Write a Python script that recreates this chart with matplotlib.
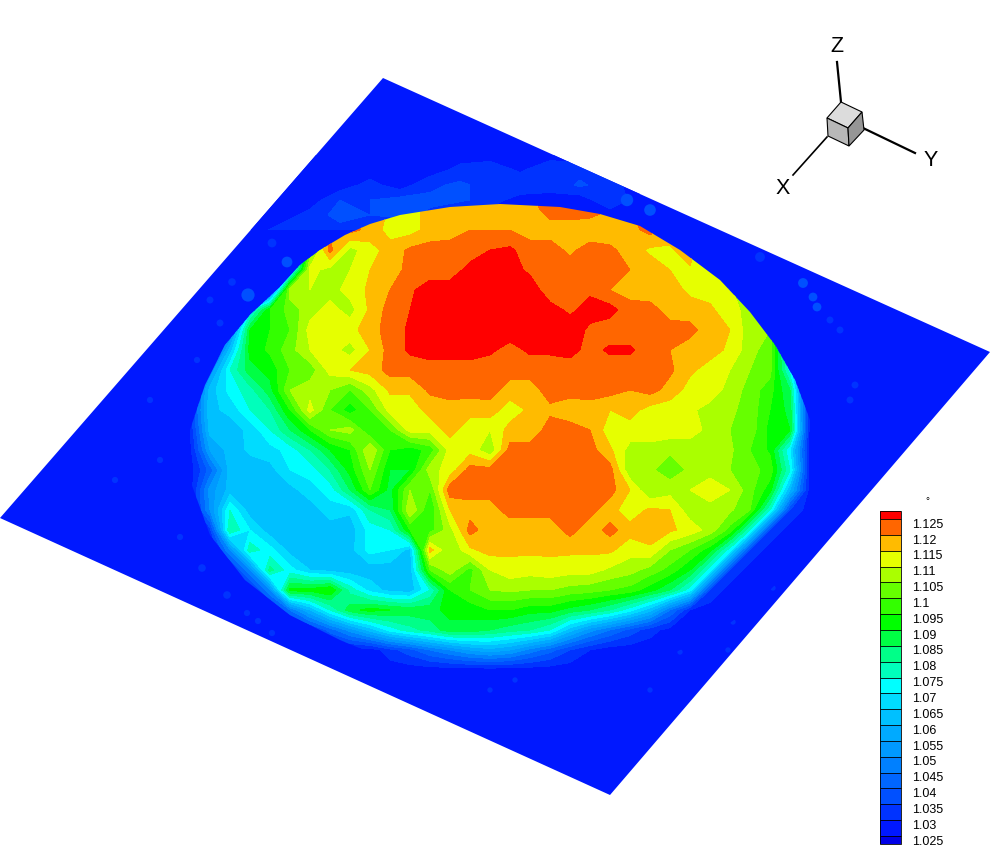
import numpy as np
import matplotlib
matplotlib.use("Agg")
import matplotlib.pyplot as plt
from matplotlib.patches import Polygon
from matplotlib.transforms import ScaledTranslation

plt.rcParams['font.family'] = ['Liberation Sans', 'DejaVu Sans']

# Contour levels and legend
levels = [1.025, 1.03, 1.035, 1.04, 1.045, 1.05, 1.055, 1.06, 1.065, 1.07, 1.075,
          1.08, 1.085, 1.09, 1.095, 1.1, 1.105, 1.11, 1.115, 1.12, 1.125]
level_labels = ['1.025', '1.03', '1.035', '1.04', '1.045', '1.05', '1.055', '1.06', '1.065', '1.07', '1.075',
                '1.08', '1.085', '1.09', '1.095', '1.1', '1.105', '1.11', '1.115', '1.12', '1.125']
band_colors = ['#0000e6', '#0018ff', '#0033ff', '#0050ff', '#0066ff', '#0080ff', '#0099ff', '#00aaff',
               '#00c0ff', '#00dcff', '#00ffff', '#00ffbb', '#00ff88', '#00ff44', '#00ff00',
               '#33ff00', '#66ff00', '#aaff00', '#e6ff00', '#ffbb00', '#ff6600', '#ff0000']

# Field, on image pixels, as 1000 * (value - 1)
grid_x = [190, 210, 230, 250, 270, 290, 310, 330, 350, 370, 390, 410, 430, 450, 470, 490,
          510, 530, 550, 570, 590, 610, 630, 650, 670, 690, 710, 730, 750, 770, 790, 810]
grid_y = [190, 210, 230, 250, 270, 290, 310, 330, 350, 370, 390, 410, 430,
          450, 470, 490, 510, 530, 550, 570, 590, 610, 630, 650, 670]
field = [
    [70,70,70,70,70,90,112,118,120,118, 114,114,116,118,118,118,120,120,122,122, 122,120,120,118,116,114,110,90,50,30, 27,27],
    [70,70,70,70,70,90,112,122,125,120, 114,114,116,118,118,118,120,118,122,122, 122,120,120,122,118,114,110,90,50,30, 27,27],
    [27,27,27,27,27,60,100,118,122,118, 113,113,117,118,120,120,120,118,118,118, 117,117,118,122,118,118,115,105,60,30, 27,27],
    [27,27,27,27,27,27,100,122,108,113, 117,121,122,122,122,125,126,122,122,119, 122,121,118,114,114,119,100,60,30,27, 27,27],
    [27,27,27,27,27,60,112,108,110,115, 117,122,122,122,127,127,127,124,122,122, 122,121,120,118,115,114,115,50,27,27, 27,27],
    [27,27,27,27,40,108,110,108,112,116, 120,124,128,128,128,128,128,128,122,122, 124,120,118,117,117,114,113,113,90,27, 27,27],
    [27,27,27,70,95,102,108,112,108,116, 122,125,128,128,128,128,128,128,127,124, 127,127,122,122,118,117,116,112,108,27, 27,27],
    [27,27,45,90,95,100,112,113,113,118, 122,126,128,128,128,128,128,128,128,128, 124,122,122,122,122,122,117,115,107,105, 27,27],
    [27,30,62,92,96,103,110,112,108,115, 122,126,128,128,128,126,123,126,126,127, 123,126,126,122,120,117,117,114,107,102, 70,27],
    [30,50,75,88,92,100,102,112,115,117, 122,122,122,122,122,122,122,122,122,122, 122,122,122,122,121,116,113,110,105,102, 72,27],
    [32,62,72,78,88,105,108,105,100,108, 116,116,121,122,122,122,118,118,122,122, 122,122,120,122,118,113,113,108,103,97, 85,27],
    [33,64,66,75,80,95,112,100,92,100, 112,112,117,118,117,118,112,116,119,117, 118,115,117,113,112,111,108,106,103,95, 88,27],
    [30,62,63,66,75,85,95,105,107,95, 100,112,112,117,112,110,117,117,122,122, 120,112,113,113,113,113,108,105,103,93, 90,27],
    [28,55,62,66,68,72,80,90,95,110, 95,92,97,112,113,106,122,122,122,123, 122,116,108,108,106,106,107,106,100,94, 70,27],
    [27,42,62,62,63,70,72,80,92,105, 90,90,108,112,122,122,122,122,122,122, 122,122,106,106,102,106,108,105,102,98, 75,27],
    [27,52,62,61,63,63,68,72,85,100, 88,105,100,123,122,122,122,122,122,122, 122,122,115,105,108,110,113,110,102,92, 60,27],
    [27,50,75,62,61,62,62,68,66,80, 85,110,95,115,118,118,122,122,122,122, 122,117,112,116,115,107,108,106,100,75, 35,27],
    [27,33,80,70,62,62,62,62,62,72, 75,95,98,108,122,117,117,117,117,122, 117,122,117,118,116,113,108,98,75,35, 27,27],
    [27,27,50,78,72,63,62,62,63,72, 70,63,117,105,114,117,116,116,116,116, 116,116,112,114,105,100,92,72,35,27, 27,27],
    [27,27,30,50,82,72,65,63,62,62, 62,62,100,108,98,110,113,112,113,112, 112,109,107,103,98,90,72,35,27,27, 27,27],
    [27,27,27,30,50,92,92,95,78,68, 63,62,75,95,100,105,106,105,105,103, 102,100,98,92,85,72,35,27,27,27, 27,27],
    [27,27,27,27,30,45,60,75,88,92, 90,88,88,92,92,95,95,92,92,88, 85,80,72,62,45,30,27,27,27,27, 27,27],
    [27,27,27,27,27,27,32,42,52,62, 72,78,82,88,88,85,82,80,75,62, 52,45,38,32,28,27,27,27,27,27, 27,27],
    [27,27,27,27,27,27,27,27,27,27, 33,38,45,50,55,58,55,48,42,35, 30,27,27,27,27,27,27,27,27,27, 27,27],
    [27,27,27,27,27,27,27,27,27,27, 27,27,27,27,27,27,27,27,27,27, 27,27,27,27,27,27,27,27,27,27, 27,27],
]

# Streaky band on the plate above the disc, same units
band_x = [250, 280, 310, 340, 370, 400, 430, 460, 490, 520, 550, 580, 610, 640]
band_y = [155, 170, 185, 200, 215, 230]
band_field = [
    [27, 27, 27, 27, 27, 27, 27, 27, 27, 27, 27, 27, 27, 27],
    [27, 27, 27, 27, 27, 27, 27, 32, 34, 29, 35, 33, 27, 27],
    [27, 27, 27, 27, 32, 27, 34, 36, 33, 35, 31, 36, 32, 27],
    [27, 27, 27, 35, 35, 37, 36, 36, 33, 27, 29, 27, 34, 27],
    [27, 27, 32, 37, 35, 37, 34, 27, 27, 27, 27, 27, 27, 27],
    [27, 32, 35, 33, 31, 27, 27, 27, 27, 27, 27, 27, 27, 27],
]

# Plate outline and rim of the disc (sharp at the top, soft lower down)
plate_x = [383, 990, 610, 0]
plate_y = [78, 352, 795, 518]
rim_x = [500, 560, 600, 640, 680, 720, 750, 775, 795, 810, 818, 815, 805, 785, 755, 720, 670, 610, 540, 470,
         400, 340, 290, 245, 210, 190, 190, 205, 225, 250, 280, 300, 320, 345, 370, 400, 450]
rim_y = [204, 207, 214, 226, 250, 280, 312, 345, 380, 420, 460, 500, 540, 575, 605, 630, 655, 672, 680, 678,
         665, 640, 615, 580, 535, 480, 430, 385, 345, 315, 287, 265, 250, 235, 224, 215, 207]

# Small paler blotches elsewhere on the plate
spot_x = [287, 248, 272, 232, 210, 220, 197, 650, 627, 760, 803, 813, 817, 840, 850, 830, 855, 202, 227, 247,
          258, 272, 180, 160, 150, 115, 490, 515, 650, 730, 773, 733, 680, 728]
spot_y = [262, 295, 243, 282, 300, 323, 360, 210, 200, 257, 283, 297, 307, 330, 400, 320, 385, 568, 595, 613,
          621, 633, 537, 460, 400, 480, 690, 680, 690, 597, 588, 622, 652, 650]
spot_v = [36, 36, 34, 34, 32, 32, 32, 36, 36, 34, 36, 36, 36, 32, 32, 32, 32, 32, 32, 32,
          32, 32, 32, 32, 32, 32, 31, 31, 31, 32, 31, 32, 32, 32]
spot_s = [60, 90, 40, 30, 25, 25, 20, 70, 80, 50, 50, 40, 40, 25, 25, 25, 25, 30, 30, 20,
          20, 20, 20, 20, 20, 20, 15, 15, 15, 15, 15, 15, 15, 15]

values = 1 + np.array(field) / 1000.0
X, Y = np.meshgrid(grid_x, grid_y)

fig = plt.figure(figsize=(9.9, 8.66), dpi=100)
ax = fig.add_axes([0, 0, 1, 1])
ax.set_xlim(0, 990)
ax.set_ylim(866, 0)
ax.axis('off')

cs = ax.contourf(X, Y, values, levels=levels, colors=band_colors, extend='both', zorder=3)

# Plate with blotches under the disc
ax.fill(plate_x, plate_y, color=band_colors[1], lw=0, zorder=1)
plate = Polygon(np.column_stack([plate_x, plate_y]), closed=True, facecolor='none', edgecolor='none')
ax.add_patch(plate)
band_cs = ax.contourf(band_x, band_y, 1 + np.array(band_field) / 1000.0, levels=levels, colors=band_colors,
                      extend='both', zorder=2)
band_cs.set_clip_path(plate)
spot_idx = np.digitize(1 + np.array(spot_v) / 1000.0, levels)
ax.scatter(spot_x, spot_y, s=spot_s, c=[band_colors[i] for i in spot_idx], lw=0, zorder=2)

rim = Polygon(np.column_stack([rim_x, rim_y]), closed=True, facecolor='none', edgecolor='none')
ax.add_patch(rim)
cs.set_clip_path(rim)

# Legend
cax = fig.add_axes([880 / 990, 1 - 844 / 866, 21 / 990, 333 / 866])
cb = fig.colorbar(cs, cax=cax, extendrect=True, extendfrac=8 / 317, drawedges=True, spacing='uniform')
cb.set_ticks(levels)
cb.set_ticklabels(level_labels)
cb.ax.tick_params(length=0, pad=8, labelsize=9)
cb.dividers.set_color('black')
cb.dividers.set_linewidth(0.6)
cb.outline.set_edgecolor('black')
cb.outline.set_linewidth(0.6)
shift = ScaledTranslation(0, -3 / 72, fig.dpi_scale_trans)
for lab in cb.ax.get_yticklabels():
    lab.set_transform(lab.get_transform() + shift)
ax.text(927, 501, '°', fontsize=7, ha='center', va='center')

# Orientation triad
ax.plot([837, 841], [62, 102], color='black', lw=1.6, zorder=5)
ax.plot([863, 915], [128, 153], color='black', lw=1.6, zorder=5)
ax.plot([827, 793], [137, 175], color='black', lw=1.2, zorder=5)
ax.fill([841, 862, 848, 827], [102, 112, 128, 118], facecolor='#dcdcdc', edgecolor='black', lw=0.8, zorder=6)
ax.fill([827, 848, 849, 828], [118, 128, 146, 136], facecolor='#b8b8b8', edgecolor='black', lw=0.8, zorder=6)
ax.fill([848, 862, 864, 849], [128, 112, 130, 146], facecolor='#969696', edgecolor='black', lw=0.8, zorder=6)
ax.text(837, 47, 'Z', fontsize=15.5, ha='center', va='center')
ax.text(931, 160, 'Y', fontsize=15.5, ha='center', va='center')
ax.text(783, 188, 'X', fontsize=15.5, ha='center', va='center')

fig.savefig('out.png', dpi=100)
